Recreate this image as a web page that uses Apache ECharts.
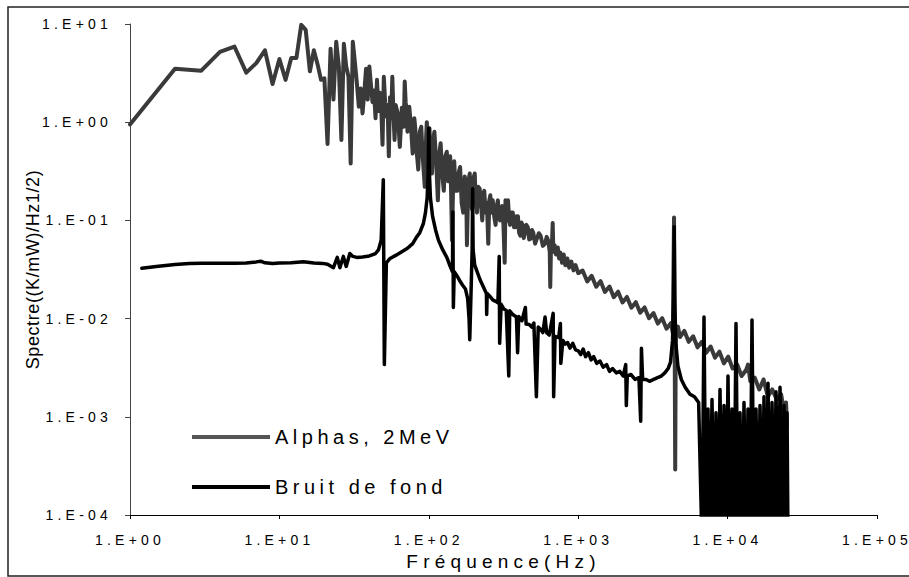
<!DOCTYPE html>
<html>
<head>
<meta charset="utf-8">
<script src="https://cdn.jsdelivr.net/npm/echarts@6/dist/echarts.min.js"></script>
<style>
  html, body { margin: 0; background: #fff; }
  #chart { width: 909px; height: 577px; }
  /* spaced lettering like the original export */
  #chart text { letter-spacing: 4.5px; }
  #chart text[style*="14px"] { letter-spacing: 4.2px; }
  #chart text[style*="19px"] { letter-spacing: 5.2px; }
  #chart text[style*="18px"] { letter-spacing: 0.6px; }
</style>
</head>
<body>
<div id="chart"></div>
<script>
// tick labels
var xTickLabels = ['1.E+00', '1.E+01', '1.E+02', '1.E+03', '1.E+04', '1.E+05'];
var yTickLabels = ['1.E-04', '1.E-03', '1.E-02', '1.E-01', '1.E+00', '1.E+01'];

// Alphas, 2MeV  [Hz, value]
var alphasLow = [
  [1, 0.95], [2, 3.5], [3, 3.35], [4, 5.2], [5, 5.9], [6, 3.2], [7, 4.0], [8, 5.4], [9, 2.45], [10, 4.4],
  [11, 2.7], [12, 4.5], [13, 4.5], [14, 9.8], [15, 8.7], [16, 3.3], [17, 5.4], [18, 3.9], [19, 2.7], [20, 2.8],
  [21, 0.6], [22, 5.6], [23, 1.7], [24, 6.6], [25, 3.7], [26, 0.66], [27, 6.3], [28, 3.7], [29, 2.9], [30, 0.38],
  [31, 6.6], [32, 4.1], [33, 2.5], [34, 1.44], [35, 2.2], [36, 1.23], [37, 2.0], [38, 3.5], [39, 1.7], [40, 3.7],
  [41, 2.4], [42, 1.6], [43, 2.1], [44, 1.1], [45, 2.7], [46, 1.3], [47, 2.0], [48, 1.5], [49, 0.59], [50, 2.9],
  [51, 1.6], [52, 1.14], [53, 1.5], [54, 0.45], [55, 1.8], [56, 1.1], [57, 2.9], [58, 1.2], [59, 0.66], [60, 1.5],
  [62, 1.23], [64, 0.56], [66, 1.4], [68, 0.9], [69, 2.6], [70, 1.6], [71, 1.33], [72, 0.8], [74, 1.44], [76, 0.9],
  [78, 0.48], [80, 1.1], [81, 0.9], [83, 0.5], [85, 0.33], [87, 0.8], [89, 0.9], [91, 0.45], [94, 0.22], [96, 0.7],
  [97, 1.0], [99, 0.5]
];
var alphasMid = [
  [101, 0.87], [103, 0.45], [105, 0.3], [107, 0.65], [109, 0.8], [112, 0.4], [115, 0.16], [118, 0.5], [120, 0.61],
  [123, 0.3], [126, 0.2], [129, 0.45], [132, 0.5], [135, 0.25], [139, 0.45], [141, 0.2], [143, 0.063], [146, 0.3],
  [148, 0.4], [151, 0.2], [155, 0.2], [158, 0.3], [162, 0.35], [166, 0.15], [170, 0.12], [174, 0.28], [178, 0.2],
  [180, 0.056], [184, 0.25], [188, 0.3], [191, 0.15], [195, 0.13], [199, 0.27], [203, 0.3], [206, 0.16], [210, 0.12],
  [214, 0.22], [219, 0.21], [224, 0.14], [228, 0.1], [232, 0.19], [235, 0.2], [240, 0.12], [245, 0.15], [250, 0.058],
  [254, 0.16], [258, 0.18], [263, 0.12], [268, 0.16], [274, 0.11], [280, 0.09], [285, 0.14], [290, 0.16], [295, 0.11],
  [300, 0.1], [305, 0.13], [310, 0.14], [316, 0.09], [322, 0.037], [326, 0.16], [330, 0.13], [335, 0.1], [339, 0.16],
  [345, 0.1], [350, 0.09], [357, 0.12], [365, 0.12], [372, 0.085], [380, 0.085], [387, 0.11], [395, 0.11], [402, 0.075],
  [410, 0.07], [417, 0.095], [424, 0.09], [432, 0.066], [440, 0.075], [450, 0.09], [460, 0.085], [470, 0.064],
  [480, 0.065], [490, 0.08], [500, 0.075], [515, 0.058], [530, 0.066], [545, 0.074], [560, 0.07], [580, 0.055],
  [600, 0.058], [615, 0.068], [630, 0.062], [645, 0.048], [650, 0.021], [658, 0.058], [668, 0.06], [675, 0.094],
  [682, 0.048], [695, 0.056], [710, 0.045], [730, 0.053], [745, 0.041], [760, 0.047], [780, 0.037], [800, 0.045],
  [820, 0.035], [845, 0.041], [870, 0.033], [900, 0.038], [930, 0.031], [960, 0.035], [1000, 0.029]
];
var alphasHigh = [
  [1070, 0.0309], [1150, 0.0239], [1230, 0.0273], [1320, 0.0211], [1410, 0.0241], [1510, 0.0187], [1620, 0.0212],
  [1730, 0.0165], [1850, 0.0188], [1980, 0.0146], [2120, 0.0166], [2270, 0.0129], [2430, 0.0147], [2600, 0.0115],
  [2780, 0.013], [2980, 0.0101], [3190, 0.0114], [3410, 0.0089], [3650, 0.0101], [3900, 0.0079], [4180, 0.009],
  [4300, 0.0071], [4380, 0.107], [4420, 0.0078], [4460, 0.00029], [4500, 0.007], [4650, 0.0083], [4800, 0.0065],
  [5130, 0.0075], [5490, 0.0058], [5880, 0.0066], [6290, 0.0051], [6730, 0.0058], [7200, 0.0045], [7700, 0.0052],
  [8240, 0.004], [8820, 0.0046], [9440, 0.0035], [10100, 0.0041], [10800, 0.0031], [11600, 0.0034], [12400, 0.0026],
  [13300, 0.003], [13700, 0.0034], [14200, 0.0023], [15200, 0.0025], [16300, 0.0019], [17400, 0.0024],
  [18600, 0.0016], [19900, 0.0019], [21300, 0.0015], [22800, 0.0017], [24000, 0.0011], [24600, 0.0014], [25000, 0.0008]
];

// Bruit de fond  [Hz, value]
var bruitLow = [
  [1.2, 0.0325], [1.5, 0.034], [2, 0.0355], [2.5, 0.0365], [3, 0.0366], [4, 0.0367], [5, 0.0366], [6, 0.0368],
  [7, 0.0378], [7.5, 0.0384], [8, 0.037], [9, 0.0365], [10, 0.0368], [12, 0.0371], [14.5, 0.038], [17, 0.0368],
  [19.5, 0.0365], [21, 0.0358], [23, 0.033], [24.4, 0.042], [25.4, 0.033], [26.8, 0.043], [28, 0.034], [29.6, 0.046],
  [31, 0.043], [33, 0.042], [36, 0.0425], [40, 0.0434], [44, 0.046], [46, 0.05], [48, 0.063], [49.6, 0.26],
  [50.4, 0.0034], [52, 0.037], [55, 0.041], [60, 0.044], [66, 0.048], [72, 0.052], [78, 0.058], [83, 0.068],
  [87, 0.075], [92, 0.093], [95, 0.12], [97.5, 0.17], [99, 0.3], [100, 0.87], [101, 0.3], [102.5, 0.17], [106, 0.11],
  [111, 0.08], [116, 0.063], [124, 0.05], [132, 0.042], [139, 0.034], [144, 0.03], [145, 0.122], [146, 0.013],
  [148, 0.03], [155, 0.027], [162, 0.024], [168, 0.022], [176, 0.02], [182, 0.016], [186, 0.01], [188, 0.0061],
  [192, 0.02], [195, 0.05], [196.5, 0.21], [198, 0.05], [203, 0.035], [209, 0.031], [220, 0.025], [232, 0.021],
  [243, 0.018], [244, 0.011], [246, 0.018], [255, 0.017], [268, 0.0155], [280, 0.015], [290, 0.0145], [296, 0.043],
  [298, 0.0056], [305, 0.014], [318, 0.0125], [330, 0.0121], [343, 0.0026], [348, 0.012], [365, 0.011],
  [386, 0.0104], [393, 0.0045], [400, 0.0105], [420, 0.0095], [443, 0.013], [448, 0.0088], [470, 0.0087],
  [489, 0.0082], [505, 0.009], [525, 0.0016], [540, 0.0082], [560, 0.0078], [580, 0.0072], [600, 0.0104],
  [615, 0.0072], [640, 0.0068], [680, 0.0113], [685, 0.0016], [700, 0.0066], [740, 0.0064], [760, 0.0089],
  [765, 0.0035], [790, 0.006], [820, 0.0055], [850, 0.0057], [880, 0.005], [920, 0.0056], [960, 0.0048]
];
var bruitMid = [
  [1000, 0.0047], [1040, 0.0043], [1080, 0.0049], [1120, 0.0041], [1170, 0.0045], [1220, 0.0038], [1270, 0.0041],
  [1330, 0.0035], [1400, 0.0037], [1470, 0.0032], [1550, 0.0034], [1620, 0.0029], [1700, 0.0031], [1800, 0.0028],
  [1900, 0.0029], [2000, 0.0026], [2080, 0.0034], [2100, 0.0013], [2130, 0.0026], [2250, 0.0027], [2400, 0.0024],
  [2550, 0.0025], [2620, 0.0009], [2650, 0.005], [2700, 0.0024], [2850, 0.0024], [3000, 0.0023], [3200, 0.0024],
  [3400, 0.0025], [3600, 0.0026], [3800, 0.0028], [4000, 0.0031], [4150, 0.0036], [4280, 0.006], [4350, 0.0155],
  [4390, 0.086], [4430, 0.0155], [4500, 0.0057], [4650, 0.0033], [4900, 0.0024], [5200, 0.002], [5600, 0.0017],
  [6000, 0.0016], [6400, 0.0014]
];
var bruitHigh = [
  [6741, 0.00005], [6950, 0.0104], [7170, 0.00005], [7392, 0.0012], [7624, 0.00005], [7864, 0.0015],
  [8110, 0.00005], [8362, 0.0011], [8627, 0.00005], [8896, 0.0019], [9174, 0.00005], [9461, 0.0013],
  [9757, 0.00005], [10062, 0.0026], [10378, 0.00005], [10703, 0.0012], [11036, 0.00005], [11382, 0.0089],
  [11738, 0.00005], [12106, 0.0011], [12485, 0.00005], [12876, 0.0014], [13280, 0.00005], [13695, 0.0012],
  [14124, 0.00005], [14567, 0.0097], [15023, 0.00005], [15495, 0.0012], [15980, 0.00005], [16481, 0.0013],
  [16998, 0.00005], [17528, 0.0016], [18078, 0.00005], [18645, 0.0022], [19229, 0.00005], [19831, 0.0014],
  [20452, 0.00005], [21093, 0.0018], [21750, 0.00005], [22432, 0.002], [23135, 0.00005], [23860, 0.0013],
  [24607, 0.00005], [25000, 0.0011], [25375, 0.00005]
];

var alphas = alphasLow.concat(alphasMid, alphasHigh);
var bruit = bruitLow.concat(bruitMid, bruitHigh);

var chart = echarts.init(document.getElementById('chart'), null, { renderer: 'svg' });

chart.setOption({
  animation: false,
  backgroundColor: '#fff',
  textStyle: { fontFamily: 'Liberation Sans', color: '#000' },
  grid: { left: 130, right: 32, top: 24, bottom: 62 },
  graphic: [{
    type: 'rect',
    silent: true,
    z: -1,
    shape: { x: 8, y: 7, width: 1000, height: 569 },
    style: { fill: 'none', stroke: '#222', lineWidth: 1.5 }
  }],
  legend: {
    orient: 'vertical',
    left: 192,
    top: 427,
    padding: 0,
    icon: 'rect',
    itemWidth: 78,
    itemHeight: 4,
    itemGap: 30,
    textStyle: { fontSize: 20, color: '#000' },
    data: [
      { name: 'Alphas, 2MeV', itemStyle: { color: '#555' } },
      { name: 'Bruit de fond', itemStyle: { color: '#000' } }
    ]
  },
  xAxis: {
    type: 'log',
    logBase: 10,
    min: 1,
    max: 100000,
    splitNumber: 5,
    name: 'Fréquence(Hz)',
    nameLocation: 'middle',
    nameGap: 32,
    nameTextStyle: { fontSize: 19, color: '#000' },
    axisLine: { lineStyle: { color: '#000', width: 1 } },
    axisTick: { show: true, length: 4, lineStyle: { color: '#000' } },
    minorTick: { show: false },
    axisLabel: {
      fontSize: 14,
      color: '#000',
      margin: 18,
      formatter: function (v) {
        return xTickLabels[Math.round(Math.log10(v))];
      }
    },
    splitLine: { show: false }
  },
  yAxis: {
    type: 'log',
    logBase: 10,
    min: 0.0001,
    max: 10,
    splitNumber: 5,
    name: 'Spectre((K/mW)/Hz1/2)',
    nameLocation: 'middle',
    nameGap: 88,
    nameTextStyle: { fontSize: 18, color: '#000' },
    axisLine: { show: true, lineStyle: { color: '#444', width: 1 } },
    axisTick: { show: true, length: 5, lineStyle: { color: '#444' } },
    minorTick: { show: false },
    axisLabel: {
      fontSize: 14,
      color: '#000',
      margin: 18,
      formatter: function (v) {
        return yTickLabels[Math.round(Math.log10(v)) + 4];
      }
    },
    splitLine: { show: false }
  },
  series: [
    {
      name: 'Alphas, 2MeV',
      type: 'line',
      data: alphas,
      symbol: 'none',
      clip: true,
      z: 2,
      itemStyle: { color: '#3a3a3a' },
      lineStyle: { color: '#3a3a3a', width: 4, join: 'round', cap: 'round' }
    },
    {
      name: 'Bruit de fond',
      type: 'line',
      data: bruit,
      symbol: 'none',
      clip: true,
      z: 3,
      itemStyle: { color: '#000' },
      lineStyle: { color: '#000', width: 3.5, join: 'round', cap: 'round' }
    }
  ]
});
</script>
</body>
</html>
